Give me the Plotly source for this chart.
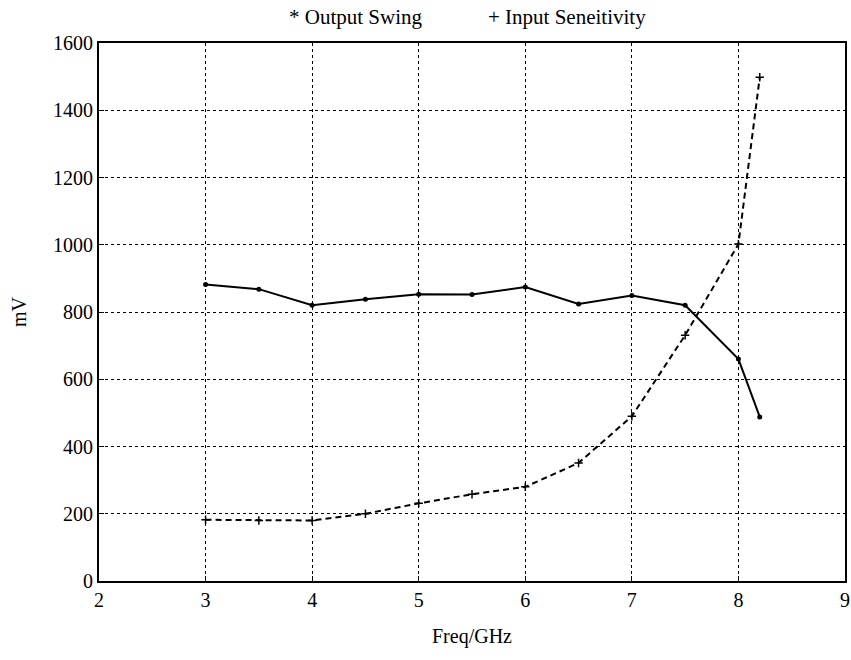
import plotly.graph_objects as go

freq = [3, 3.5, 4, 4.5, 5, 5.5, 6, 6.5, 7, 7.5, 8, 8.2]
output_swing = [882, 868, 820, 838, 853, 852, 874, 824, 849, 820, 660, 488]
input_sens = [182, 180, 180, 200, 231, 258, 280, 351, 490, 731, 1002, 1498]

x_ticks = [2, 3, 4, 5, 6, 7, 8, 9]
y_ticks = [0, 200, 400, 600, 800, 1000, 1200, 1400, 1600]

font = "Liberation Serif, Times New Roman, serif"

L, R, T, B = 99, 845, 43, 581
W, H = 851, 660
pw, ph = R - L, B - T

fig = go.Figure()
fig.add_trace(go.Scatter(
    x=freq, y=output_swing, mode="lines+markers", name="Output Swing",
    line=dict(color="black", width=2),
    marker=dict(symbol="circle", size=5, color="black"),
))
fig.add_trace(go.Scatter(
    x=freq, y=input_sens, mode="lines+markers", name="Input Seneitivity",
    line=dict(color="black", width=2, dash="6px,4px"),
    marker=dict(symbol="cross-thin", size=6, color="black", line=dict(color="black", width=1.5)),
))

axis_common = dict(
    showline=True, linecolor="black", linewidth=2, mirror=True,
    ticks="inside", ticklen=5, tickcolor="black",
    showgrid=True, gridcolor="black", gridwidth=1, griddash="dot",
    zeroline=False, automargin=False, ticklabeloverflow="allow",
    tickfont=dict(family=font, size=20, color="black"),
)

fig.update_layout(
    width=W, height=H,
    margin=dict(l=L, r=W - R, t=T, b=H - B),
    paper_bgcolor="white", plot_bgcolor="white",
    showlegend=False,
    font=dict(family=font, color="black"),
    xaxis=dict(range=[2, 9], tickvals=x_ticks, **axis_common),
    yaxis=dict(range=[0, 1600], tickvals=y_ticks, **axis_common),
)


def px_to_paper(px, py):
    return (px - L) / pw, (B - py) / ph


for text, cx, cy, size, angle in [
    ("* Output Swing", 356, 17, 21, 0),
    ("+ Input Seneitivity", 567, 17, 21, 0),
    ("Freq/GHz", 472, 637, 20, 0),
    ("mV", 19, 312, 20, -90),
]:
    xp, yp = px_to_paper(cx, cy)
    fig.add_annotation(text=text, xref="paper", yref="paper", x=xp, y=yp,
                       xanchor="center", yanchor="middle", showarrow=False,
                       textangle=angle,
                       font=dict(family=font, size=size, color="black"))

fig.write_html(
    "out.html",
    config={"displayModeBar": False},
    post_script="document.body.style.margin='0';document.body.style.padding='0';"
                "document.body.style.overflow='hidden';",
)
